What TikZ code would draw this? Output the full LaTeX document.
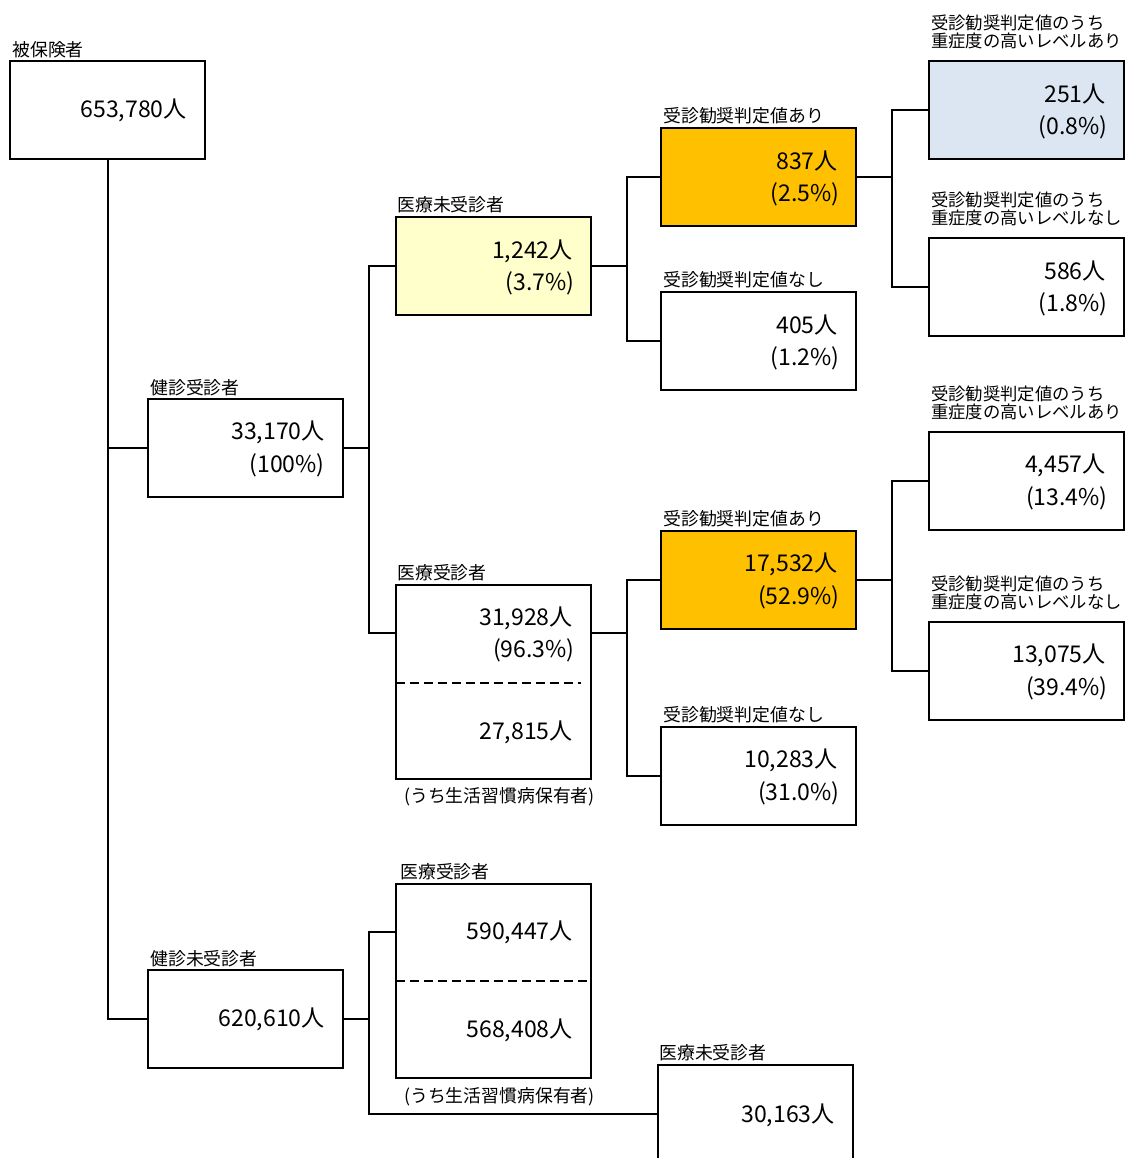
\documentclass[tikz,border=0pt]{standalone}
\usepackage{fontspec}
\setmainfont{Noto Sans CJK JP}
\usetikzlibrary{calc}
\definecolor{lyellow}{HTML}{FFFFCC}
\definecolor{orng}{HTML}{FFC000}
\definecolor{lblue}{HTML}{DCE6F2}
\begin{document}
\begin{tikzpicture}[x=0.75pt,y=-0.75pt,
  box/.style={draw, line width=1.5pt, minimum width=146.25pt, minimum height=73.5pt, inner sep=0pt, outer sep=0pt, anchor=north west},
  tallbox/.style={box, minimum height=145.5pt},
  num/.style={anchor=east, inner sep=0pt, font=\fontsize{17.3pt}{20pt}\selectfont},
  lab/.style={anchor=base west, inner sep=0pt, font=\fontsize{13.4pt}{16pt}\selectfont},
  lab2/.style={anchor=base west, inner sep=0pt, font=\fontsize{13pt}{16pt}\selectfont},
  note/.style={anchor=base, inner sep=0pt, font=\fontsize{13.4pt}{16pt}\selectfont},
  conn/.style={line width=1.5pt},
  sepline/.style={line width=1.5pt, dash pattern=on 6.75pt off 3.75pt}]
\clip (0,0) rectangle (1125,1158);
\fill[white] (0,0) rectangle (1125,1158);

% boxes
\node[box] (A) at (10,61) {};
\node[box] (B) at (148,399) {};
\node[box] (C) at (148,970) {};
\node[box, fill=lyellow] (D) at (396,217) {};
\node[tallbox] (E) at (396,585) {};
\node[tallbox] (F) at (396,884) {};
\node[box] (G) at (658,1065) {};
\node[box, fill=orng] (H) at (661,128) {};
\node[box] (I) at (661,292) {};
\node[box, fill=orng] (J) at (661,531) {};
\node[box] (K) at (661,727) {};
\node[box, fill=lblue] (L) at (929,61) {};
\node[box] (M) at (929,238) {};
\node[box] (N) at (929,432) {};
\node[box] (O) at (929,622) {};

% labels
\node[lab] (Al) at ($(A.north west)+(2,-5)$) {被保険者};
\node[lab] (Bl) at ($(B.north west)+(2,-5)$) {健診受診者};
\node[lab] (Cl) at ($(C.north west)+(2,-5)$) {健診未受診者};
\node[lab] (Dl) at ($(D.north west)+(1,-6)$) {医療未受診者};
\node[lab] (El) at ($(E.north west)+(1,-6)$) {医療受診者};
\node[lab] (Fl) at ($(F.north west)+(4,-6)$) {医療受診者};
\node[lab] (Gl) at ($(G.north west)+(1,-6)$) {医療未受診者};
\node[lab] (Hl) at ($(H.north west)+(2,-6)$) {受診勧奨判定値あり};
\node[lab] (Il) at ($(I.north west)+(2,-6)$) {受診勧奨判定値なし};
\node[lab] (Jl) at ($(J.north west)+(2,-6)$) {受診勧奨判定値あり};
\node[lab] (Kl) at ($(K.north west)+(2,-6)$) {受診勧奨判定値なし};
\node[lab2] (Ll1) at ($(L.north west)+(2,-32)$) {受診勧奨判定値のうち};
\node[lab2] (Ll2) at ($(L.north west)+(2,-14)$) {重症度の高いレベルあり};
\node[lab2] (Ml1) at ($(M.north west)+(2,-32)$) {受診勧奨判定値のうち};
\node[lab2] (Ml2) at ($(M.north west)+(2,-14)$) {重症度の高いレベルなし};
\node[lab2] (Nl1) at ($(N.north west)+(2,-32)$) {受診勧奨判定値のうち};
\node[lab2] (Nl2) at ($(N.north west)+(2,-14)$) {重症度の高いレベルあり};
\node[lab2] (Ol1) at ($(O.north west)+(2,-32)$) {受診勧奨判定値のうち};
\node[lab2] (Ol2) at ($(O.north west)+(2,-14)$) {重症度の高いレベルなし};

% numbers
\node[num] (An) at ($(A.east)+(-18,0)$) {653,780人};
\node[num] (Bn) at ($(B.north east)+(-18,33)$) {33,170人};
\node[num] (Bp) at ($(B.north east)+(-18,66)$) {(100\%)};
\node[num] (Cn) at ($(C.east)+(-18,0)$) {620,610人};
\node[num] (Dn) at ($(D.north east)+(-18,34)$) {1,242人};
\node[num] (Dp) at ($(D.north east)+(-16,66)$) {(3.7\%)};
\node[num] (En) at ($(E.north east)+(-18,33)$) {31,928人};
\node[num] (Ep) at ($(E.north east)+(-16,65)$) {(96.3\%)};
\node[num] (En2) at ($(E.north east)+(-18,147)$) {27,815人};
\node[num] (Fn) at ($(F.north east)+(-18,48)$) {590,447人};
\node[num] (Fn2) at ($(F.north east)+(-18,146)$) {568,408人};
\node[num] (Gn) at ($(G.north east)+(-18,50)$) {30,163人};
\node[num] (Hn) at ($(H.north east)+(-18,33)$) {837人};
\node[num] (Hp) at ($(H.north east)+(-16,66)$) {(2.5\%)};
\node[num] (In) at ($(I.north east)+(-18,33)$) {405人};
\node[num] (Ip) at ($(I.north east)+(-16,66)$) {(1.2\%)};
\node[num] (Jn) at ($(J.north east)+(-18,33)$) {17,532人};
\node[num] (Jp) at ($(J.north east)+(-16,66)$) {(52.9\%)};
\node[num] (Kn) at ($(K.north east)+(-18,33)$) {10,283人};
\node[num] (Kp) at ($(K.north east)+(-16,66)$) {(31.0\%)};
\node[num] (Ln) at ($(L.north east)+(-18,33)$) {251人};
\node[num] (Lp) at ($(L.north east)+(-16,66)$) {(0.8\%)};
\node[num] (Mn) at ($(M.north east)+(-18,33)$) {586人};
\node[num] (Mp) at ($(M.north east)+(-16,66)$) {(1.8\%)};
\node[num] (Nn) at ($(N.north east)+(-18,33)$) {4,457人};
\node[num] (Np) at ($(N.north east)+(-16,66)$) {(13.4\%)};
\node[num] (On) at ($(O.north east)+(-18,33)$) {13,075人};
\node[num] (Op) at ($(O.north east)+(-16,66)$) {(39.4\%)};

% notes
\node[note] (Enote) at ($(E.south)+(6,23)$) {(うち生活習慣病保有者)};
\node[note] (Fnote) at ($(F.south)+(6,24)$) {(うち生活習慣病保有者)};

% dashed separators
\draw[sepline] ($(E.north west)+(0,98)$) -- ($(E.north east)+(-10,98)$);
\draw[sepline] ($(F.north west)+(0,97)$) -- ($(F.north east)+(0,97)$);

% connection points
\coordinate (Ein) at ($(E.north west)+(0,48)$);
\coordinate (Eout) at ($(E.north east)+(0,48)$);
\coordinate (Fin) at ($(F.north west)+(0,48)$);

% connectors
\draw[conn] (A.south) |- (B.west);
\draw[conn] (A.south) |- (C.west);

\draw[conn] (B.east) -- ++(26,0) coordinate (jb);
\draw[conn] (jb) |- (D.west);
\draw[conn] (jb) |- (Ein);

\draw[conn] (C.east) -- ++(26,0) coordinate (jc);
\draw[conn] (jc) |- (Fin);
\draw[conn] (jc) |- (G.west);

\draw[conn] (D.east) -- ++(36,0) coordinate (jd);
\draw[conn] (jd) |- (H.west);
\draw[conn] (jd) |- (I.west);

\draw[conn] (Eout) -- ++(36,0) coordinate (je);
\draw[conn] (je) |- (J.west);
\draw[conn] (je) |- (K.west);

\draw[conn] (H.east) -- ++(36,0) coordinate (jh);
\draw[conn] (jh) |- (L.west);
\draw[conn] (jh) |- (M.west);

\draw[conn] (J.east) -- ++(36,0) coordinate (jj);
\draw[conn] (jj) |- (N.west);
\draw[conn] (jj) |- (O.west);
\end{tikzpicture}
\end{document}
